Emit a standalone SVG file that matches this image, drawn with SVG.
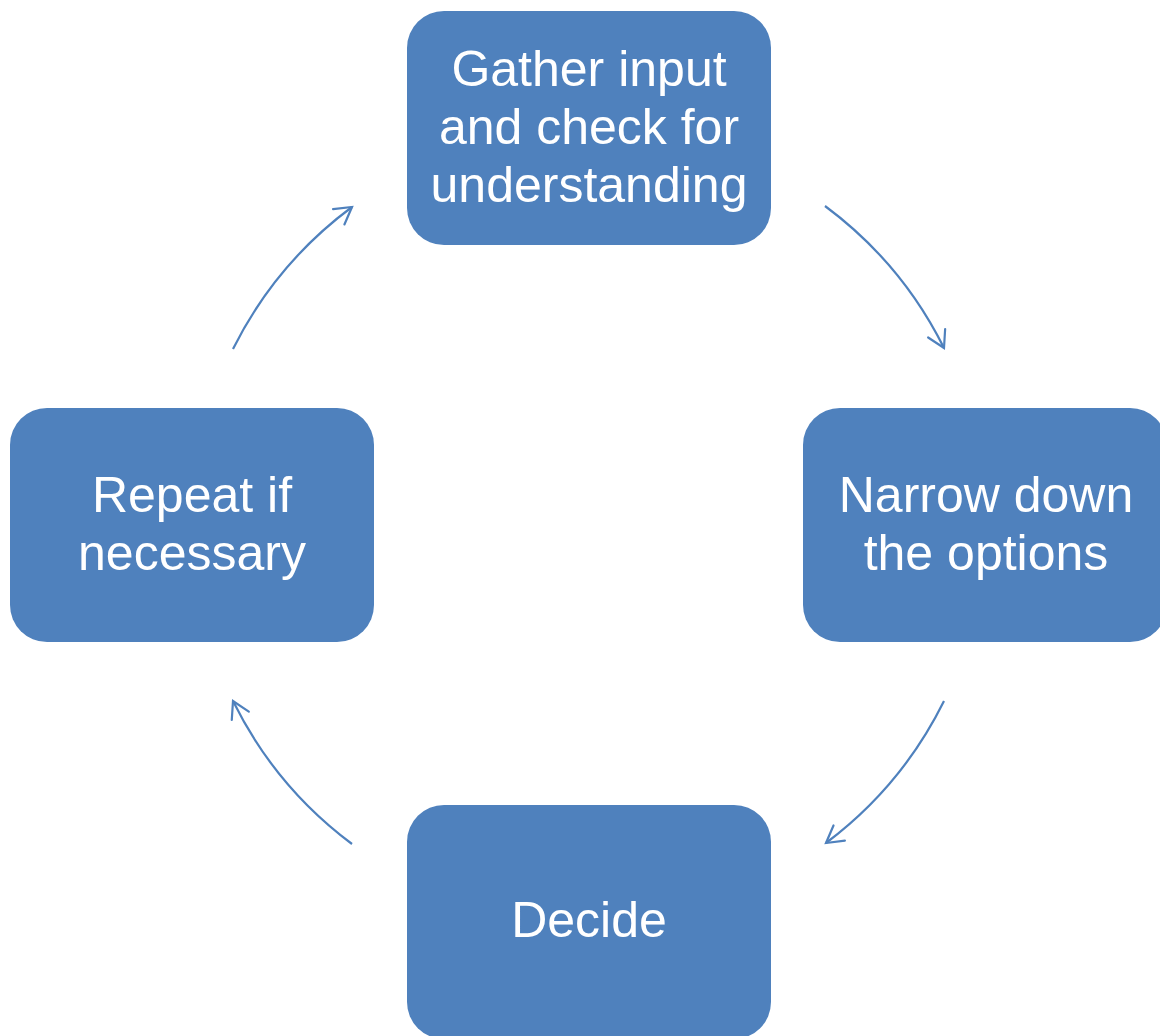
<svg xmlns="http://www.w3.org/2000/svg" width="1160" height="1036" viewBox="0 0 1160 1036">
  <style>
    .box { fill: #4f81bd; }
    .label { fill: #ffffff; font-family: "Liberation Sans", Arial, sans-serif; font-size: 50px; text-anchor: middle; }
    .conn { fill: none; stroke: #4f81bd; stroke-width: 2.2; }
  </style>
  <defs>
    <marker id="open-arrow" markerUnits="userSpaceOnUse" markerWidth="40" markerHeight="40" viewBox="-20 -20 40 40" refX="0" refY="0" orient="auto">
      <path d="M-16.5,-9.5 L0,0 L-16.5,9.5" fill="none" stroke="#4f81bd" stroke-width="2.2" stroke-linecap="round" stroke-linejoin="miter"/>
    </marker>
  </defs>
  <rect width="1160" height="1036" fill="#ffffff"/>

  <g id="connectors">
    <path class="conn" d="M233,349 A398,398 0 0 1 352,207" marker-end="url(#open-arrow)"/>
    <path class="conn" d="M825,206 A398,398 0 0 1 944,348" marker-end="url(#open-arrow)"/>
    <path class="conn" d="M944,701 A398,398 0 0 1 826,843" marker-end="url(#open-arrow)"/>
    <path class="conn" d="M352,844 A398,398 0 0 1 233,701" marker-end="url(#open-arrow)"/>
  </g>

  <g id="node-gather">
    <rect class="box" x="407" y="11" width="364" height="234" rx="37"/>
    <text class="label" x="589" y="86">Gather input</text>
    <text class="label" x="589" y="144">and check for</text>
    <text class="label" x="589" y="202">understanding</text>
  </g>

  <g id="node-narrow">
    <rect class="box" x="803" y="408" width="364" height="234" rx="37"/>
    <text class="label" x="986" y="512">Narrow down</text>
    <text class="label" x="986" y="570">the options</text>
  </g>

  <g id="node-decide">
    <rect class="box" x="407" y="805" width="364" height="234" rx="37"/>
    <text class="label" x="589" y="937">Decide</text>
  </g>

  <g id="node-repeat">
    <rect class="box" x="10" y="408" width="364" height="234" rx="37"/>
    <text class="label" x="192" y="512">Repeat if</text>
    <text class="label" x="192" y="570">necessary</text>
  </g>
</svg>
